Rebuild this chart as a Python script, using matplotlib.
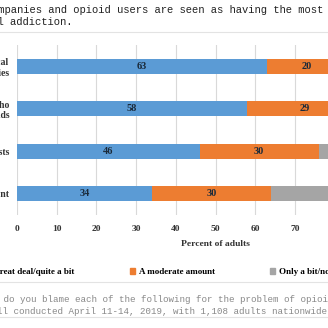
import matplotlib.pyplot as plt
from matplotlib.patches import Patch
from matplotlib.lines import Line2D

# Данные
categories = ["Pharmaceutical\ncompanies", "People who\nuse opioids",
              "Doctors and dentists", "Government"]
great_deal = [63, 58, 46, 34]
moderate = [20, 29, 30, 30]
little = [17, 13, 24, 36]
series_names = ["A great deal/quite a bit", "A moderate amount", "Only a bit/not at all"]
colors = ["#5B9BD5", "#ED7D31", "#A5A5A5"]

W = H = 328
def fx(x):
    return x / W
def fy(y):
    return 1 - y / H

serif = "Liberation Serif"
mono = "Liberation Mono"

fig = plt.figure(figsize=(3.28, 3.28), dpi=100)
fig.patch.set_facecolor("white")

# Ось уходит за правый край картинки (исходник обрезан)
ax = fig.add_axes([fx(17), fy(215), 397 / W, 170 / H])

y = list(range(len(categories)))
left = [0] * len(categories)
for vals, name, c in zip([great_deal, moderate, little], series_names, colors):
    bars = ax.barh(y, vals, left=left, height=0.35, color=c, label=name, zorder=3)
    ax.bar_label(bars, labels=[str(v) for v in vals], label_type="center",
                 fontsize=7.5, fontweight="bold", family=serif, color="#1a2a3a")
    left = [l + v for l, v in zip(left, vals)]

ax.set_xlim(0, 100)
ax.set_ylim(-0.5, 3.5)
ax.invert_yaxis()
ax.set_xticks(range(0, 101, 10))
ax.set_yticks(y, categories)
ax.grid(axis="x", color="#d9d9d9", lw=0.8, zorder=0)
for s in ax.spines.values():
    s.set_visible(False)
ax.tick_params(axis="both", length=0, labelsize=6.8, colors="#333333")
ax.tick_params(axis="y", pad=5.5, labelsize=7)
ax.tick_params(axis="x", pad=7)
for t in ax.get_xticklabels() + ax.get_yticklabels():
    t.set_family(serif)
    t.set_fontweight("bold")
ax.set_xlabel("Percent of adults", family=serif, fontweight="bold",
              fontsize=6.8, color="#333333", labelpad=5)

# Легенда
handles = [Patch(color=c) for c in colors]
fig.legend(handles, series_names, loc="center left", bbox_to_anchor=(fx(-30), fy(272)),
           ncol=3, frameon=False, handlelength=0.6, handleheight=0.6,
           handletextpad=0.4, columnspacing=6.1,
           prop={"family": serif, "weight": "bold", "size": 6.5})

# Заголовок и примечание (моноширинный шрифт, обрезаны по краям)
tw, nw = 6.3, 5.5
t1_pre, t1 = "Pharmaceutical co", "mpanies and opioid users are seen as having the most"
t2_pre, t2 = "responsibility for chemica", "l addiction."
n1_pre, n1 = "Question: How much, if at all, ", "do you blame each of the following for the problem of opioid addiction?"
n2_pre, n2 = "Source: AP-NORC/Reuters pol", "l conducted April 11-14, 2019, with 1,108 adults nationwide."

fig.text(fx(-1 - tw * len(t1_pre)), fy(10), t1_pre + t1,
         family=mono, fontsize=7.55, color="#222222", va="center", ha="left")
fig.text(fx(-1 - tw * len(t2_pre)), fy(22), t2_pre + t2,
         family=mono, fontsize=7.55, color="#222222", va="center", ha="left")
fig.text(fx(3 - nw * len(n1_pre)), fy(300), n1_pre + n1,
         family=mono, fontsize=6.6, color="#888888", va="center", ha="left")
fig.text(fx(3 - nw * len(n2_pre)), fy(311), n2_pre + n2,
         family=mono, fontsize=6.6, color="#888888", va="center", ha="left")

for yy in (32, 282, 317):
    fig.add_artist(Line2D([0, 1], [fy(yy), fy(yy)], color="#e3e3e3", lw=0.8,
                          transform=fig.transFigure))

fig.savefig("out.png", dpi=100)
